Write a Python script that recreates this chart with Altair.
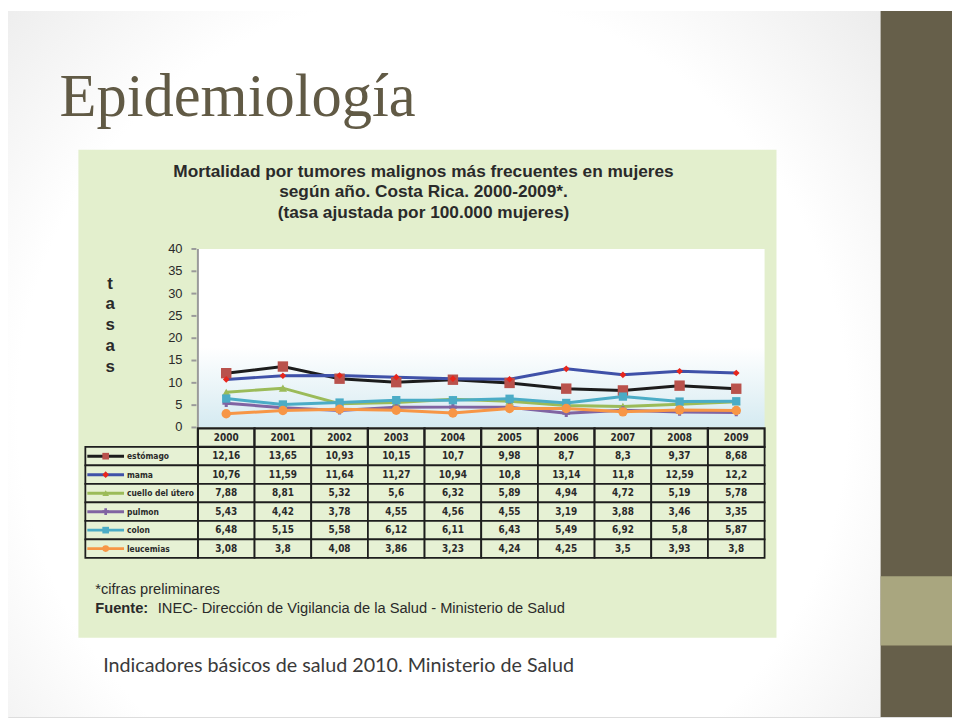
import altair as alt
import pandas as pd

# ---------------- data ----------------
years = [2000, 2001, 2002, 2003, 2004, 2005, 2006, 2007, 2008, 2009]
series = ["estómago", "mama", "cuello del útero", "pulmon", "colon", "leucemias"]
estomago = [12.16, 13.65, 10.93, 10.15, 10.7, 9.98, 8.7, 8.3, 9.37, 8.68]
mama = [10.76, 11.59, 11.64, 11.27, 10.94, 10.8, 13.14, 11.8, 12.59, 12.2]
cuello = [7.88, 8.81, 5.32, 5.6, 6.32, 5.89, 4.94, 4.72, 5.19, 5.78]
pulmon = [5.43, 4.42, 3.78, 4.55, 4.56, 4.55, 3.19, 3.88, 3.46, 3.35]
colon = [6.48, 5.15, 5.58, 6.12, 6.11, 6.43, 5.49, 6.92, 5.8, 5.87]
leucemias = [3.08, 3.8, 4.08, 3.86, 3.23, 4.24, 4.25, 3.5, 3.93, 3.8]
y_ticks = [0, 5, 10, 15, 20, 25, 30, 35, 40]

line_colors = ["#1c1c1c", "#3f51a8", "#9bbb59", "#8064a2", "#4bacc6", "#f79646"]
marker_colors = ["#b9524c", "#e8261c", "#9bbb59", "#8064a2", "#4bacc6", "#f79646"]
marker_shapes = ["square", "diamond", "triangle-up", "cross", "square", "circle"]
marker_sizes = [110, 45, 70, 60, 70, 90]

values = [estomago, mama, cuello, pulmon, colon, leucemias]

recs = []
for i, (name, vals) in enumerate(zip(series, values)):
    for y, v in zip(years, vals):
        recs.append(dict(series=name, order=i, year=y, value=v,
                         x0=y - 0.5, x1=y + 0.5,
                         label=str(v).replace(".", ","),
                         lc=line_colors[i], mc=marker_colors[i],
                         shape=marker_shapes[i], msize=marker_sizes[i]))
long = pd.DataFrame(recs)
long["row"] = long["series"]

header = pd.DataFrame(dict(year=years, x0=[y - 0.5 for y in years],
                           x1=[y + 0.5 for y in years], label=[str(y) for y in years],
                           row=["header"] * len(years)))

leg = pd.DataFrame(dict(row=series, lc=line_colors, mc=marker_colors,
                        shape=marker_shapes, msize=marker_sizes))
ticks = pd.DataFrame(dict(t=y_ticks))
frame = pd.DataFrame(dict(x0=[years[0] - 0.5], x1=[years[-1] + 0.5], y0=[0], y1=[40]))
one = pd.DataFrame(dict(a=[0]))

W, H = 952, 712
rows = ["header"] + series

xs = alt.Scale(domain=[1999.5, 2009.5], range=[191.5, 763], nice=False, zero=False)
ys = alt.Scale(domain=[0, 40], range=[420, 240], nice=False, zero=False)
row_band = alt.Scale(type="band", domain=rows, range=[421, 551.5], paddingInner=0, paddingOuter=0)
row_point = alt.Scale(type="point", domain=rows, range=[421, 551.5], padding=0.5)

SANS_N = "Liberation Sans Narrow, DejaVu Sans Condensed, Liberation Sans, Arial"
SANS = "Liberation Sans, Arial"
INK = "#2a2a2a"

def box(x, x2, y, y2, **kw):
    return alt.Chart(one).mark_rect(**kw).encode(
        x=alt.value(x), x2=alt.value(x2), y=alt.value(y), y2=alt.value(y2))

# slide background
bg = box(0, W, 0, H, color=alt.RadialGradient(
    gradient="radial",
    stops=[alt.GradientStop(offset=0, color="#ffffff"),
           alt.GradientStop(offset=0.55, color="#ffffff"),
           alt.GradientStop(offset=1, color="#dcdcdc")],
    x1=0.45, y1=0.55, r1=0, x2=0.45, y2=0.55, r2=0.8))
bar_dark = box(880, W, 0, H, color="#665f4a")
bar_light = box(880, W, 570, 640, color="#a9a67f")
panel = box(71, 775, 140, 632, color="#e3efcd")

# plot area
plot_bg = alt.Chart(frame).mark_rect(color=alt.LinearGradient(
    gradient="linear",
    stops=[alt.GradientStop(offset=0, color="#ffffff"),
           alt.GradientStop(offset=0.55, color="#ffffff"),
           alt.GradientStop(offset=1, color="#d5eaf1")],
    x1=0, y1=0, x2=0, y2=1)).encode(
    x=alt.X("x0:Q", scale=xs, axis=None), x2="x1:Q",
    y=alt.Y("y0:Q", scale=ys, axis=None), y2="y1:Q")

axis_line = alt.Chart(frame).mark_rule(color="#9a9a9a", strokeWidth=2).encode(
    x=alt.X("x0:Q", scale=xs, axis=None),
    y=alt.Y("y0:Q", scale=ys, axis=None), y2="y1:Q")

tick_marks = alt.Chart(ticks).mark_rule(color="#9a9a9a", strokeWidth=2).encode(
    x=alt.value(185), x2=alt.value(190),
    y=alt.Y("t:Q", scale=ys, axis=None))

tick_labels = alt.Chart(ticks).mark_text(
    align="right", baseline="middle", font=SANS, fontSize=13, color=INK).encode(
    x=alt.value(176), y=alt.Y("t:Q", scale=ys, axis=None), text="t:Q")

tasas = alt.Chart(one).mark_text(
    text="t\na\ns\na\ns", lineBreak="\n", lineHeight=21, align="center",
    baseline="middle", font=SANS, fontSize=17, fontWeight="bold", color=INK).encode(
    x=alt.value(103), y=alt.value(275))

lines = alt.Chart(long).mark_line(strokeWidth=3).encode(
    x=alt.X("year:Q", scale=xs, axis=None),
    y=alt.Y("value:Q", scale=ys, axis=None),
    color=alt.Color("lc:N", scale=None, legend=None),
    detail="series:N", order="year:Q")

points = alt.Chart(long).mark_point(filled=True, opacity=1).encode(
    x=alt.X("year:Q", scale=xs, axis=None),
    y=alt.Y("value:Q", scale=ys, axis=None),
    color=alt.Color("mc:N", scale=None, legend=None),
    shape=alt.Shape("shape:N", scale=None, legend=None),
    size=alt.Size("msize:Q", scale=None, legend=None))

# table
GRID = "#1e1e1e"
CELL = "#e6f1d4"
cells = alt.Chart(long).mark_rect(fill=CELL, stroke=GRID, strokeWidth=1.8).encode(
    x=alt.X("x0:Q", scale=xs, axis=None), x2="x1:Q",
    y=alt.Y("row:N", scale=row_band, axis=None))
head_cells = alt.Chart(header).mark_rect(fill=CELL, stroke=GRID, strokeWidth=2.2).encode(
    x=alt.X("x0:Q", scale=xs, axis=None), x2="x1:Q",
    y=alt.Y("row:N", scale=row_band, axis=None))
leg_cells = alt.Chart(leg).mark_rect(fill=CELL, stroke=GRID, strokeWidth=1.8).encode(
    x=alt.value(78), x2=alt.value(191.5),
    y=alt.Y("row:N", scale=row_band, axis=None))

cell_text = alt.Chart(long).mark_text(
    font=SANS_N, fontSize=10, fontWeight="bold", color=INK, baseline="middle").encode(
    x=alt.X("year:Q", scale=xs, axis=None),
    y=alt.Y("row:N", scale=row_point, axis=None), text="label:N")
head_text = alt.Chart(header).mark_text(
    font=SANS_N, fontSize=10, fontWeight="bold", color=INK, baseline="middle").encode(
    x=alt.X("year:Q", scale=xs, axis=None),
    y=alt.Y("row:N", scale=row_point, axis=None), text="label:N")

leg_lines = alt.Chart(leg).mark_rule(strokeWidth=3).encode(
    x=alt.value(80), x2=alt.value(117),
    y=alt.Y("row:N", scale=row_point, axis=None),
    color=alt.Color("lc:N", scale=None, legend=None))
leg_marks = alt.Chart(leg).mark_point(filled=True, opacity=1).encode(
    x=alt.value(98.5),
    y=alt.Y("row:N", scale=row_point, axis=None),
    color=alt.Color("mc:N", scale=None, legend=None),
    shape=alt.Shape("shape:N", scale=None, legend=None),
    size=alt.value(45))
leg_text = alt.Chart(leg).mark_text(
    align="left", baseline="middle", font=SANS_N, fontSize=8.5, fontWeight="bold",
    color=INK).encode(
    x=alt.value(120), y=alt.Y("row:N", scale=row_point, axis=None), text="row:N")

# texts
def text(t, x, y, **kw):
    return alt.Chart(one).mark_text(text=t, **kw).encode(x=alt.value(x), y=alt.value(y))

title = text("Epidemiología", 52, 106, align="left", baseline="alphabetic",
             font="Liberation Serif", fontSize=61, color="#615a45")
TT = dict(align="center", baseline="middle", font=SANS, fontSize=17.4, fontWeight="bold", color=INK)
t1 = text("Mortalidad por tumores malignos más frecuentes en mujeres", 419, 162, **TT)
t2 = text("según año. Costa Rica. 2000-2009*.", 419, 183, **TT)
t3 = text("(tasa ajustada por 100.000 mujeres)", 419, 204, **TT)
FT = dict(align="left", baseline="middle", font=SANS, fontSize=14.8, color=INK)
f1 = text("*cifras preliminares", 88, 584, **FT)
f2a = text("Fuente:", 88, 603, fontWeight="bold", **FT)
f2b = text("INEC- Dirección de Vigilancia de la Salud - Ministerio de Salud", 151, 603, **FT)
caption = text("Indicadores básicos de salud 2010. Ministerio de Salud", 96, 661,
               align="left", baseline="middle", font="Lato", fontSize=19.9, color="#3a3a3a")

chart = alt.layer(
    bg, bar_dark, bar_light, panel, plot_bg, axis_line, tick_marks, tick_labels, tasas,
    lines, points, cells, head_cells, leg_cells, cell_text, head_text,
    leg_lines, leg_marks, leg_text,
    title, t1, t2, t3, f1, f2a, f2b, caption,
).resolve_scale(x="independent", y="independent").properties(
    width=W, height=H, padding=0,
    autosize=alt.AutoSizeParams(type="none"),
).configure_view(stroke=None).configure(background="#ffffff")

chart.save("out.html", embed_options={"renderer": "svg", "actions": False})
